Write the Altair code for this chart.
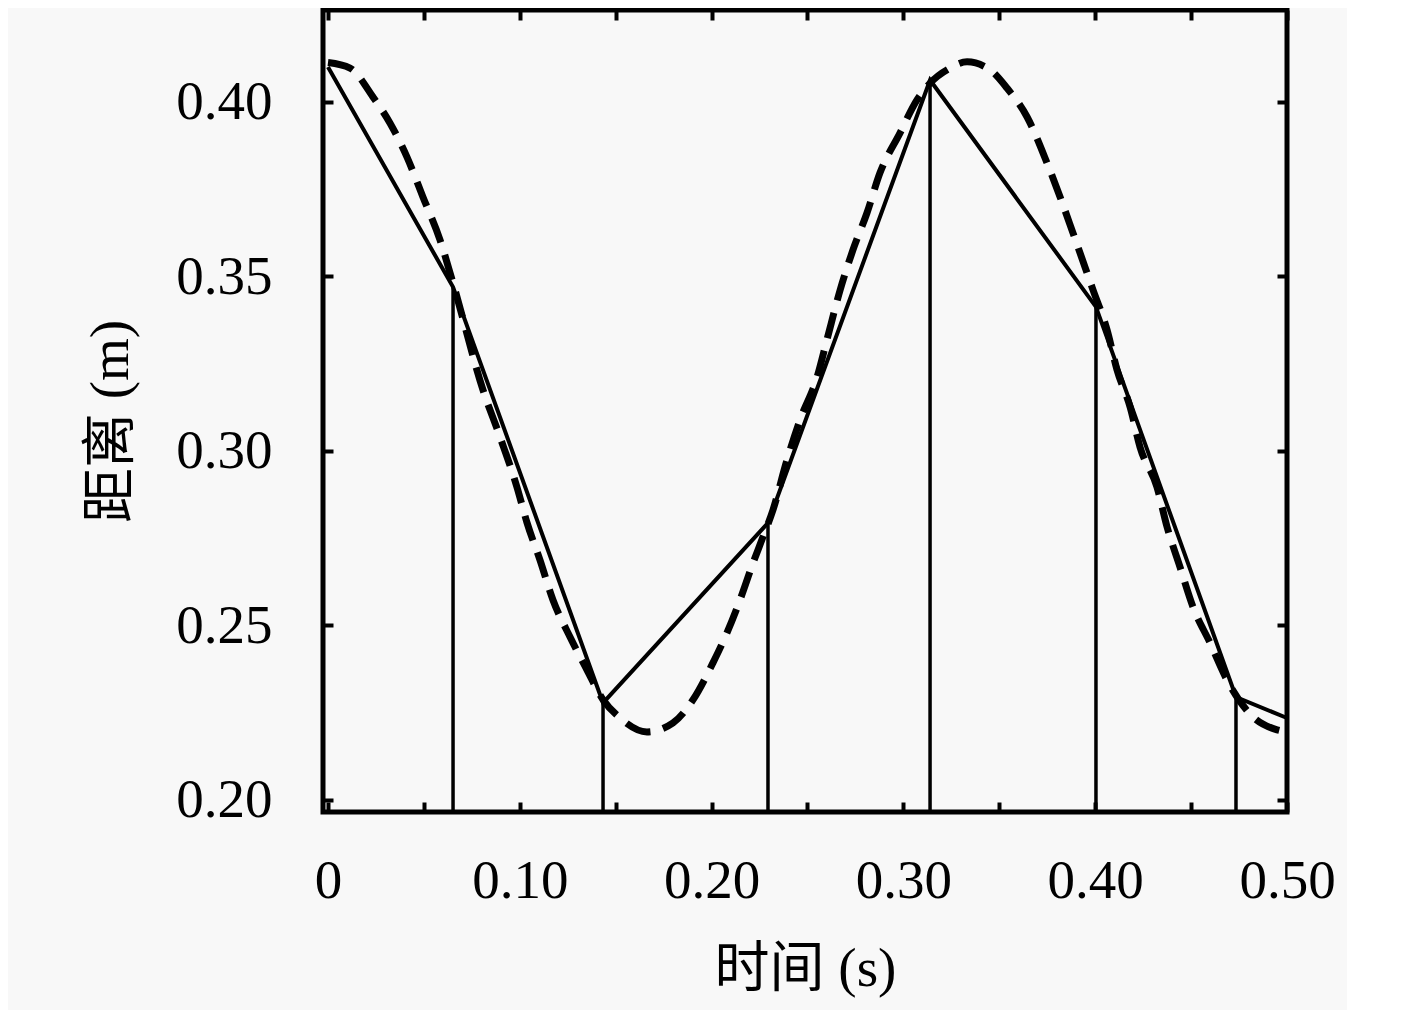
import altair as alt
import pandas as pd

# ---- data ----
solid_t = [0.0, 0.0652, 0.1434, 0.2294, 0.3139, 0.4004, 0.4734, 0.5]
solid_d = [0.4100, 0.3470, 0.2278, 0.2794, 0.4063, 0.3413, 0.2295, 0.2235]

dash_t = [0.000, 0.0115, 0.0235, 0.0323, 0.0412, 0.0495, 0.0584, 0.0652, 0.0808, 0.0897,
          0.0985, 0.1038, 0.1105, 0.1173, 0.1262, 0.1350, 0.1434, 0.1523, 0.1663, 0.1799,
          0.1903, 0.2007, 0.2080, 0.2148, 0.2216, 0.2268, 0.2320, 0.2393, 0.2461, 0.2550,
          0.2602, 0.2670, 0.2737, 0.2810, 0.2878, 0.2982, 0.3071, 0.3139, 0.3243, 0.3332,
          0.3452, 0.3540, 0.3645, 0.3749, 0.3817, 0.3884, 0.3989, 0.4062, 0.4114, 0.4182,
          0.4234, 0.4322, 0.4375, 0.4442, 0.4510, 0.4599, 0.4687, 0.4823, 0.4948, 0.5000]
dash_d = [0.4113, 0.4097, 0.4014, 0.3940, 0.3842, 0.3728, 0.3605, 0.3481, 0.3175, 0.3040,
          0.2897, 0.2794, 0.2688, 0.2573, 0.2467, 0.2373, 0.2287, 0.2235, 0.2195, 0.2221,
          0.2287, 0.2393, 0.2479, 0.2573, 0.2679, 0.2754, 0.2831, 0.2974, 0.3089, 0.3212,
          0.3320, 0.3461, 0.3576, 0.3682, 0.3797, 0.3911, 0.4006, 0.4054, 0.4097, 0.4115,
          0.4092, 0.4040, 0.3957, 0.3825, 0.3728, 0.3625, 0.3461, 0.3347, 0.3232, 0.3126,
          0.3011, 0.2897, 0.2782, 0.2668, 0.2553, 0.2450, 0.2344, 0.2238, 0.2201, 0.2195]

x_ticks = [0.0, 0.05, 0.10, 0.15, 0.20, 0.25, 0.30, 0.35, 0.40, 0.45, 0.50]
y_ticks = [0.20, 0.25, 0.30, 0.35, 0.40]

X_DOMAIN = [-0.0026, 0.5]
Y_DOMAIN = [0.19656, 0.42636]

x_title = "时间 (s)"
y_title = "距离 (m)"

solid_df = pd.DataFrame({"t": solid_t, "d": solid_d})
dash_df = pd.DataFrame({"t": dash_t, "d": dash_d})
rule_df = pd.DataFrame({"t": solid_t[1:-1], "d": solid_d[1:-1]})

FONT = "Liberation Serif, Noto Sans CJK SC, serif"

x_scale = alt.Scale(domain=X_DOMAIN, nice=False, zero=False)
y_scale = alt.Scale(domain=Y_DOMAIN, nice=False, zero=False)

label_expr = ("round(datum.value*100) % 10 == 0 ? "
              "(datum.value < 0.001 ? '0' : format(datum.value, '.2f')) : ''")

x_axis_bottom = alt.Axis(orient="bottom", values=x_ticks, labelExpr=label_expr,
                         offset=-10, tickSize=10, tickWidth=4, tickColor="black",
                         domain=False, grid=False, labelFont=FONT, labelFontSize=55,
                         labelColor="black", labelPadding=68, labelBaseline="middle",
                         labelFlush=False, labelOverlap=False,
                         title=x_title, titleFont=FONT, titleFontSize=55,
                         titleFontWeight="normal", titleColor="black",
                         titleY=166, titleBaseline="middle")
y_axis_left = alt.Axis(orient="left", values=y_ticks, format=".2f",
                       offset=-10, tickSize=10, tickWidth=4, tickColor="black",
                       domain=False, grid=False, labelFont=FONT, labelFontSize=55,
                       labelColor="black", labelPadding=51, labelBaseline="middle",
                       labelFlush=False, labelOverlap=False,
                       title=y_title, titleFont=FONT, titleFontSize=55,
                       titleFontWeight="normal", titleColor="black",
                       titleX=-223, titleY=411, titleBaseline="middle", titleAngle=270)
x_axis_top = alt.Axis(orient="top", values=x_ticks, labels=False, title=None,
                      offset=-10, tickSize=10, tickWidth=4, tickColor="black",
                      domain=False, grid=False)
y_axis_right = alt.Axis(orient="right", values=y_ticks, labels=False, title=None,
                        offset=-10, tickSize=10, tickWidth=4, tickColor="black",
                        domain=False, grid=False)

solid = alt.Chart(solid_df).mark_line(color="black", strokeWidth=4).encode(
    x=alt.X("t:Q", scale=x_scale, axis=x_axis_bottom),
    y=alt.Y("d:Q", scale=y_scale, axis=y_axis_left),
    order="t:Q",
)

dashed = alt.Chart(dash_df).mark_line(color="black", strokeWidth=7,
                                      strokeDash=[26, 13], interpolate="monotone").encode(
    x=alt.X("t:Q", scale=x_scale, axis=x_axis_top),
    y=alt.Y("d:Q", scale=y_scale, axis=y_axis_right),
    order="t:Q",
)

rules = alt.Chart(rule_df).mark_rule(color="black", strokeWidth=3.5).encode(
    x=alt.X("t:Q", scale=x_scale, axis=None),
    y=alt.Y("d:Q", scale=y_scale, axis=None),
    y2=alt.datum(Y_DOMAIN[0]),
)

chart = alt.layer(rules, solid, dashed).resolve_axis(
    x="independent", y="independent"
).properties(
    width=964, height=802,
    autosize=alt.AutoSizeParams(type="none"),
    padding={"left": 315, "top": 2, "right": 60, "bottom": 198},
    background="#f8f8f8",
).configure_view(stroke="black", strokeWidth=5)

chart.save("out.html", embed_options={"renderer": "svg", "actions": False})
